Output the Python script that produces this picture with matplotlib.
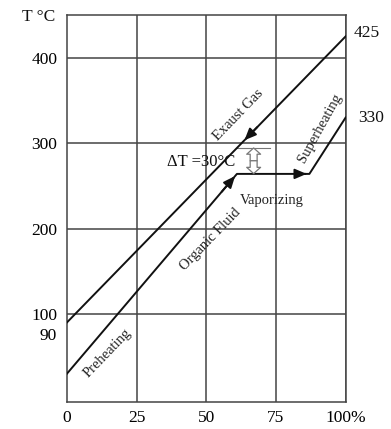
import numpy as np
import matplotlib.pyplot as plt
from matplotlib.transforms import offset_copy

plt.rcParams['font.family'] = ['Liberation Serif', 'DejaVu Serif']

# heat exchanger temperature profile data
load_pct = [0, 25, 50, 75, 100]
y_ticks = [90, 100, 200, 300, 400]
y_grid = [100, 200, 300, 400]

gas_x = [0, 100]
gas_t = [90, 425]

fluid_x = [0, 61, 87, 100]
fluid_t = [30, 264, 264, 330]

pinch_x = 61
pinch_dt = 30

fig = plt.figure(figsize=(3.91, 4.29), dpi=100)
ax = fig.add_axes([0.171, 0.063, 0.713, 0.902])
ax.set_xlim(0, 100)
ax.set_ylim(-3, 450)

grid_col = '#444444'
for x in load_pct[1:]:
    ax.axvline(x, color=grid_col, lw=1.1, zorder=1)
for y in y_grid:
    ax.axhline(y, color=grid_col, lw=1.1, zorder=1)
for s in ax.spines.values():
    s.set_color(grid_col)
    s.set_linewidth(1.1)

ax.set_xticks(load_pct)
ax.set_xticklabels(['0', '25', '50', '75', '100%'])
ax.set_yticks(y_ticks)
ax.set_yticklabels([str(v) for v in y_ticks])
ax.tick_params(length=0, labelsize=12.5)
ax.tick_params(axis='x', pad=6)
ax.tick_params(axis='y', pad=7)
# the 90 label sits a little below its tick so it clears the 100 label
lbl90 = ax.get_yticklabels()[0]
lbl90.set_transform(offset_copy(lbl90.get_transform(), fig=fig, y=-11, units='dots'))

line_kw = dict(color='#111111', lw=1.4, zorder=3)
head = dict(arrowstyle='-|>,head_length=0.7,head_width=0.3', color='#111111', lw=1.4)

# exhaust gas line with arrow pointing toward the cold end
ax.plot(gas_x, gas_t, **line_kw)
gas_at = lambda x: np.interp(x, gas_x, gas_t)
ax.annotate('', xy=(63, gas_at(63)), xytext=(69, gas_at(69)), arrowprops=head, zorder=4)

# organic fluid: preheating, vaporizing, superheating
ax.plot(fluid_x, fluid_t, **line_kw)
for i in (0, 1):
    x0, x1 = fluid_x[i], fluid_x[i + 1]
    t0, t1 = fluid_t[i], fluid_t[i + 1]
    ax.annotate('', xy=(x1, t1), xytext=(x1 - 0.1 * (x1 - x0), t1 - 0.1 * (t1 - t0)),
                arrowprops=head, zorder=4)

# pinch point: hollow double arrow between the two curves
t_hot = gas_at(pinch_x)
t_cold = t_hot - pinch_dt
t_mid = (t_hot + t_cold) / 2
ax.plot([pinch_x, pinch_x + 12], [t_hot, t_hot], color='#777777', lw=0.8, zorder=2)
hollow = dict(arrowstyle='simple,head_length=0.45,head_width=1.0,tail_width=0.5',
              facecolor='white', edgecolor='#777777', lw=0.9, shrinkA=0, shrinkB=0)
for t_end in (t_hot, t_cold):
    ax.annotate('', xy=(pinch_x + 6, t_end), xytext=(pinch_x + 6, t_mid),
                arrowprops=hollow, zorder=4)
ax.text(pinch_x - 0.5, t_mid - 2, '\u0394T =%d\u00b0C' % pinch_dt,
        ha='right', va='center', fontsize=12, color='#111111', zorder=5)

ax.text(61.5, 333, 'Exaust Gas', rotation=46, ha='center', va='center', fontsize=10.5, color='#222222')
ax.text(90.8, 318, 'Superheating', rotation=61, ha='center', va='center', fontsize=10.5, color='#222222')
ax.text(73.5, 233, 'Vaporizing', ha='center', va='center', fontsize=10.5, color='#222222')
ax.text(51.5, 187, 'Organic Fluid', rotation=46, ha='center', va='center', fontsize=10.5, color='#222222')
ax.text(14.5, 54, 'Preheating', rotation=46, ha='center', va='center', fontsize=10.5, color='#222222')

# end temperatures at the right edge
ax.text(103, gas_t[-1] + 4, str(gas_t[-1]), ha='left', va='center', fontsize=12.5, color='#111111')
ax.text(104.5, fluid_t[-1], str(fluid_t[-1]), ha='left', va='center', fontsize=12.5, color='#111111')
ax.text(-4, 448, 'T \u00b0C', ha='right', va='center', fontsize=12.5, color='#111111')

fig.savefig('out.png', dpi=100)
